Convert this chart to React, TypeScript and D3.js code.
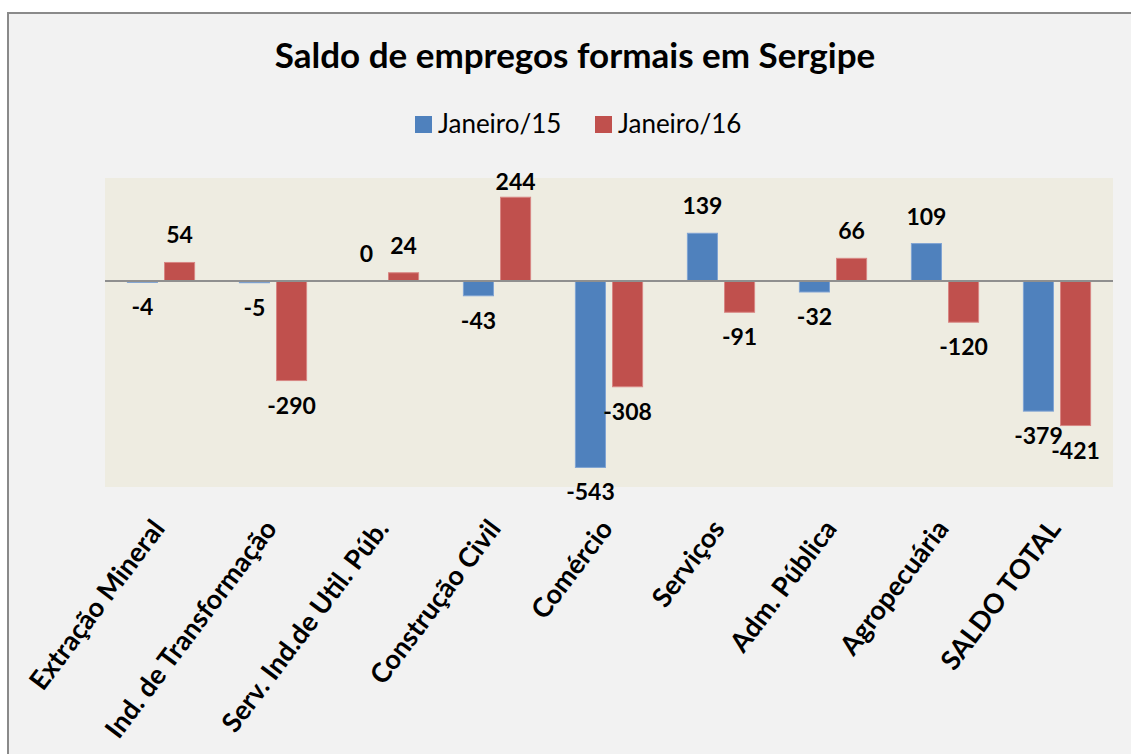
import * as d3 from 'd3';
import { useEffect, useRef } from 'react';

const categories = [
    'Extração Mineral',
    'Ind. de Transformação',
    'Serv. Ind.de Util. Púb.',
    'Construção Civil',
    'Comércio',
    'Serviços',
    'Adm. Pública',
    'Agropecuária',
    'SALDO TOTAL',
];
const seriesNames = ['Janeiro/15', 'Janeiro/16'];
const jan15 = [-4, -5, 0, -43, -543, 139, -32, 109, -379];
const jan16 = [54, -290, 24, 244, -308, -91, 66, -120, -421];
const colors = ['#4F81BD', '#C0504D'];
const strokes = ['#7FA3D3', '#D88683'];

const App = () => {
    const ref = useRef<SVGSVGElement>(null);

    useEffect(() => {
        drawChart();
    }, []);

    const drawChart = () => {
        const width = 1131;
        const height = 754;
        const plot = { left: 105, right: 1113, top: 178, bottom: 487 };
        const font = "Lato, 'Open Sans', sans-serif";

        const svg = d3.select(ref.current);
        svg.selectAll('*').remove();

        // chart area + border
        svg.append('rect').attr('width', width).attr('height', height).attr('fill', '#ffffff');
        svg.append('rect')
            .attr('x', 8).attr('y', 13)
            .attr('width', width + 20).attr('height', height + 20)
            .attr('fill', '#F2F2F2')
            .attr('stroke', '#8A8A8A')
            .attr('stroke-width', 2);

        // title
        svg.append('text')
            .attr('x', 575).attr('y', 68)
            .attr('text-anchor', 'middle')
            .style('font-family', font)
            .style('font-weight', 700)
            .style('font-size', '35px')
            .style('fill', '#000')
            .text('Saldo de empregos formais em Sergipe');

        // legend
        const legendX = [415, 595];
        seriesNames.forEach((name, i) => {
            svg.append('rect')
                .attr('x', legendX[i]).attr('y', 116)
                .attr('width', 17).attr('height', 17)
                .attr('fill', colors[i]);
            svg.append('text')
                .attr('x', legendX[i] + 23).attr('y', 133)
                .style('font-family', font)
                .style('font-size', '26px')
                .style('fill', '#000')
                .text(name);
        });

        // plot area
        svg.append('rect')
            .attr('x', plot.left).attr('y', plot.top)
            .attr('width', plot.right - plot.left).attr('height', plot.bottom - plot.top)
            .attr('fill', '#EEECE1');

        const y = d3.scaleLinear().domain([-600, 300]).range([plot.bottom, plot.top]);
        const x0 = d3.scaleBand()
            .domain(categories)
            .range([plot.left, plot.right])
            .paddingInner(0.4)
            .paddingOuter(0.2);
        const x1 = d3.scaleBand()
            .domain(seriesNames)
            .range([0, x0.bandwidth()])
            .paddingInner(0.19);

        const rows = categories.map((c, i) => ({ cat: c, values: [jan15[i], jan16[i]] }));

        const groups = svg.selectAll('g.cat')
            .data(rows)
            .enter()
            .append('g')
            .attr('class', 'cat')
            .attr('transform', (d: any) => `translate(${x0(d.cat)},0)`);

        groups.selectAll('rect')
            .data((d: any) => d.values.map((v: number, i: number) => ({ v, s: seriesNames[i], i })))
            .enter()
            .filter((d: any) => d.v !== 0)
            .append('rect')
            .attr('x', (d: any) => x1(d.s))
            .attr('y', (d: any) => Math.min(y(d.v), y(0)))
            .attr('width', x1.bandwidth())
            .attr('height', (d: any) => Math.abs(y(d.v) - y(0)))
            .attr('fill', (d: any) => colors[d.i])
            .attr('stroke', (d: any) => strokes[d.i])
            .attr('stroke-width', 1);

        // zero line
        svg.append('line')
            .attr('x1', plot.left).attr('x2', plot.right)
            .attr('y1', y(0)).attr('y2', y(0))
            .attr('stroke', '#8F8F8F')
            .attr('stroke-width', 2);

        // value labels
        groups.selectAll('text.val')
            .data((d: any) => d.values.map((v: number, i: number) => ({ v, s: seriesNames[i] })))
            .enter()
            .append('text')
            .attr('class', 'val')
            .attr('x', (d: any) => (x1(d.s) as number) + x1.bandwidth() / 2)
            .attr('y', (d: any) => d.v >= 0
                ? Math.max(y(d.v) - 19, plot.top + 12)
                : y(d.v) + 33)
            .attr('text-anchor', 'middle')
            .style('font-family', font)
            .style('font-weight', 700)
            .style('font-size', '23px')
            .style('fill', '#000')
            .text((d: any) => d.v);

        // category labels
        svg.selectAll('text.cat')
            .data(categories)
            .enter()
            .append('text')
            .attr('class', 'cat')
            .attr('transform', (d: string) =>
                `translate(${(x0(d) as number) + x0.bandwidth() / 2 + 5},${plot.bottom + 42}) rotate(-53)`)
            .attr('text-anchor', 'end')
            .style('font-family', font)
            .style('font-weight', 700)
            .style('font-size', '27px')
            .style('fill', '#000')
            .text((d: string) => d);
    };

    return (
        <svg
            ref={ref}
            width={1131}
            height={754}
            style={{ position: 'absolute', left: 0, top: 0 }}
        />
    );
};

export default App;
